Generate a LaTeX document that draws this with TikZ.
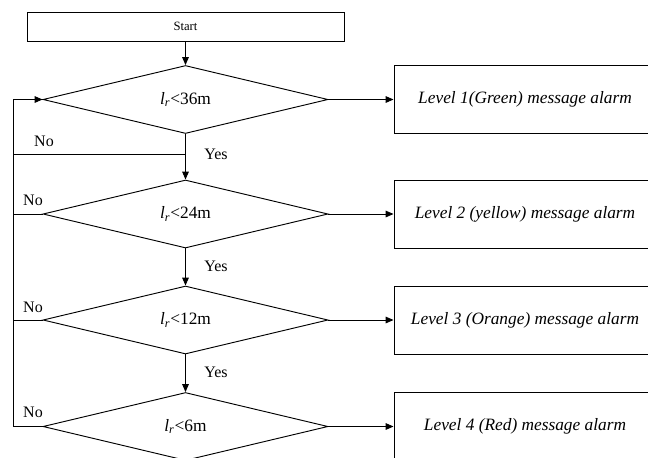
\documentclass[tikz,border=0pt]{standalone}
\usepackage{fontspec}
\setmainfont{Liberation Serif}
\usetikzlibrary{arrows.meta,shapes.geometric}

\newcommand{\lrless}[1]{\textit{l}\textsubscript{\textit{r}}<#1m}

\begin{document}
\begin{tikzpicture}[x=0.75pt,y=-0.75pt,>={Triangle[length=6pt,width=5pt]},
  line width=0.7pt,
  startbox/.style={draw,minimum width=237.75pt,minimum height=21.75pt,
    inner sep=0pt,font=\fontsize{9.5}{11}\selectfont},
  test/.style={draw,diamond,shape aspect=4,minimum width=213.75pt,
    minimum height=51pt,inner sep=0pt,font=\fontsize{13}{15}\selectfont},
  alarm/.style={draw,minimum width=196.5pt,minimum height=51pt,
    inner sep=0pt,font=\fontsize{13}{15}\selectfont\itshape},
  lbl/.style={inner sep=0pt,font=\fontsize{12}{14}\selectfont}]
  \useasboundingbox (0,0) rectangle (648,457);
  \clip (0,0) rectangle (648,457);

  % flow column
  \node[startbox] (start) at (185.5,26.5) {Start};
  \node[test] (d1) at (185.5,99.5) {\lrless{36}};
  \node[test] (d2) at (185.5,214) {\lrless{24}};
  \node[test] (d3) at (185.5,320) {\lrless{12}};
  \node[test] (d4) at (185.5,426.5) {\lrless{6}};

  % alarm boxes
  \node[alarm] (a1) at (525,99.5) {Level 1(Green) message alarm};
  \node[alarm] (a2) at (525,214) {Level 2 (yellow) message alarm};
  \node[alarm] (a3) at (525,320) {Level 3 (Orange) message alarm};
  \node[alarm] (a4) at (525,426.5) {Level 4 (Red) message alarm};

  \coordinate (loop) at (13,0);
  \coordinate (j1) at (185.5,154);

  \draw[->] (start.south) -- (d1.north);
  \draw[->] (d1.south) -- (d2.north);
  \draw[->] (d2.south) -- (d3.north);
  \draw[->] (d3.south) -- (d4.north);
  \foreach \i in {1,...,4}
    \draw[->] (d\i.east) -- (a\i.west);

  % back loop
  \draw[->] (d4.west) -- (d4.west -| loop) |- (d1.west);
  \draw (j1) -- (j1 -| loop);
  \draw (d2.west) -- (d2.west -| loop);
  \draw (d3.west) -- (d3.west -| loop);

  \node[lbl] at (44,141) {No};
  \node[lbl] at (33,200) {No};
  \node[lbl] at (33,307) {No};
  \node[lbl] at (33,412) {No};
  \node[lbl] at (216,154) {Yes};
  \node[lbl] at (216,266) {Yes};
  \node[lbl] at (216,372) {Yes};
\end{tikzpicture}
\end{document}
